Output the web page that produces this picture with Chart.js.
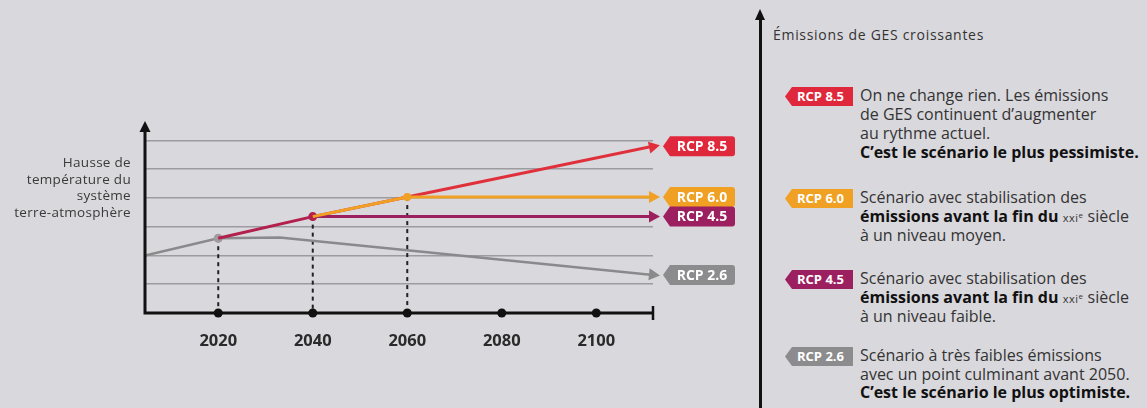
<!DOCTYPE html>
<html lang="fr">
<head>
<meta charset="utf-8">
<script src="https://cdn.jsdelivr.net/npm/chart.js@4.4.1/dist/chart.umd.min.js"></script>
<style>
  html, body { margin: 0; padding: 0; background: #d9d8dd; }
  body { width: 1147px; height: 408px; position: relative; overflow: hidden; font-family: "Open Sans", sans-serif; color: #2b2b2b; }
  #chart { position: absolute; left: 0; top: 0; }
  .ylabel { position: absolute; right: 1016px; top: 154px; text-align: right; font-size: 13.5px; line-height: 16.7px; color: #3a3a3a; letter-spacing: 0.3px; }
  .vaxis { position: absolute; left: 759px; top: 18px; width: 3px; height: 400px; background: #111; }
  .vhead { position: absolute; left: 755px; top: 9px; width: 0; height: 0; border-left: 5.5px solid transparent; border-right: 5.5px solid transparent; border-bottom: 11px solid #111; }
  .title { position: absolute; left: 773px; top: 25px; font-size: 14px; letter-spacing: 0.7px; color: #333; }
  .item { position: absolute; left: 785px; }
  .tag { position: absolute; left: 0; width: 68px; height: 19px; color: #fff; font-weight: 700; font-size: 13px; line-height: 19px; text-align: center;
         clip-path: polygon(7px 0, 100% 0, 100% 100%, 7px 100%, 0 50%); padding-left: 3px; box-sizing: border-box; }
  .txt { position: absolute; left: 75px; width: 320px; font-size: 16px; line-height: 19px; white-space: nowrap; color: #333; }
  .txt b { font-weight: 700; color: #111; }
  .sc { font-size: 11px; letter-spacing: 0.5px; line-height: 0; }
  .sc sup { font-size: 8px; line-height: 0; vertical-align: 4px; }
</style>
</head>
<body>
<canvas id="chart" width="740" height="408"></canvas>

<div class="ylabel">Hausse de<br>température du<br>système<br>terre-atmosphère</div>

<div class="vaxis"></div>
<div class="vhead"></div>
<div class="title">Émissions de GES croissantes</div>

<div class="item" style="top:87px">
  <div class="tag" style="background:#e0283c">RCP 8.5</div>
  <div class="txt" style="top:-1px">On ne change rien. Les émissions<br>de GES continuent d’augmenter<br>au rythme actuel.<br><b>C’est le scénario le plus pessimiste.</b></div>
</div>
<div class="item" style="top:189px">
  <div class="tag" style="background:#f0a022">RCP 6.0</div>
  <div class="txt" style="top:-1px">Scénario avec stabilisation des<br><b>émissions avant la fin du</b> <span class="sc">xxi<sup>e</sup></span> siècle<br>à un niveau moyen.</div>
</div>
<div class="item" style="top:270px">
  <div class="tag" style="background:#9c1f60">RCP 4.5</div>
  <div class="txt" style="top:-1px">Scénario avec stabilisation des<br><b>émissions avant la fin du</b> <span class="sc">xxi<sup>e</sup></span> siècle<br>à un niveau faible.</div>
</div>
<div class="item" style="top:347px">
  <div class="tag" style="background:#8c8c8e">RCP 2.6</div>
  <div class="txt" style="top:-1px; line-height:18.5px">Scénario à très faibles émissions<br>avec un point culminant avant 2050.<br><b>C’est le scénario le plus optimiste.</b></div>
</div>

<script>
// années repères sur l'axe horizontal
const tickYears = [2020, 2040, 2060, 2080, 2100];
const branchYears = [2020, 2040, 2060];

// trajectoires (hausse de température, unité = une ligne de grille)
const commonYears = [2020, 2040];
const commonValues = [2.6, 3.35];
const rcp26Years = [2004.5, 2020, 2033, 2060, 2112];
const rcp26Values = [2.0, 2.6, 2.62, 2.18, 1.32];
const rcp45Years = [2040, 2112];
const rcp45Values = [3.35, 3.35];
const rcp60Years = [2040, 2060, 2112];
const rcp60Values = [3.35, 4.03, 4.03];
const rcp85Years = [2040, 2060, 2112];
const rcp85Values = [3.35, 4.03, 5.8];
const gridLevels = [1, 2, 3, 4, 5, 6];

const pts = (xs, ys) => xs.map((x, i) => ({ x: x, y: ys[i] }));

const colors = {
  common: '#b3204d',
  r26: '#8a8a8c',
  r45: '#9c1f60',
  r60: '#f0a022',
  r85: '#e0303c'
};

const tags = [
  { label: 'RCP 8.5', ds: 'RCP 8.5', color: '#e0283c' },
  { label: 'RCP 6.0', ds: 'RCP 6.0', color: '#f0a022' },
  { label: 'RCP 4.5', ds: 'RCP 4.5', color: '#9c1f60' },
  { label: 'RCP 2.6', ds: 'RCP 2.6', color: '#8c8c8e' }
];

function dotAt(years, year, r) {
  return years.map(y => (y === year ? r : 0));
}

const decor = {
  id: 'decor',
  beforeDatasetsDraw(chart) {
    const { ctx, chartArea, scales } = chart;
    const x = scales.x, y = scales.y;
    // pointillés verticaux depuis les embranchements
    ctx.save();
    ctx.strokeStyle = '#222';
    ctx.lineWidth = 2;
    ctx.setLineDash([4, 4]);
    const branchVals = [2.6, 3.35, 4.03];
    branchYears.forEach((yr, i) => {
      const px = x.getPixelForValue(yr);
      ctx.beginPath();
      ctx.moveTo(px, y.getPixelForValue(branchVals[i]));
      ctx.lineTo(px, chartArea.bottom);
      ctx.stroke();
    });
    ctx.restore();
  },
  afterDatasetsDraw(chart) {
    const { ctx, chartArea, scales } = chart;
    const x = scales.x, y = scales.y;
    const left = chartArea.left, bottom = chartArea.bottom;
    ctx.save();
    // axes
    ctx.strokeStyle = '#111';
    ctx.fillStyle = '#111';
    ctx.lineWidth = 3;
    ctx.beginPath();
    ctx.moveTo(left, bottom + 1.5);
    ctx.lineTo(left, chartArea.top + 4);
    ctx.moveTo(left - 1.5, bottom);
    ctx.lineTo(chartArea.right, bottom);
    ctx.stroke();
    ctx.beginPath();
    ctx.moveTo(left, chartArea.top - 5);
    ctx.lineTo(left - 5.5, chartArea.top + 6);
    ctx.lineTo(left + 5.5, chartArea.top + 6);
    ctx.closePath();
    ctx.fill();
    ctx.lineWidth = 2.5;
    ctx.beginPath();
    ctx.moveTo(chartArea.right, bottom - 7);
    ctx.lineTo(chartArea.right, bottom + 7);
    ctx.stroke();
    tickYears.forEach(yr => {
      ctx.beginPath();
      ctx.arc(x.getPixelForValue(yr), bottom, 4.5, 0, Math.PI * 2);
      ctx.fill();
    });

    // flèches et étiquettes en bout de courbe
    tags.forEach(t => {
      const idx = chart.data.datasets.findIndex(d => d.label === t.ds);
      const meta = chart.getDatasetMeta(idx);
      const n = meta.data.length;
      const p = meta.data[n - 1], q = meta.data[n - 2];
      const ang = Math.atan2(p.y - q.y, p.x - q.x);
      const col = chart.data.datasets[idx].borderColor;
      ctx.save();
      ctx.translate(p.x + 3, p.y);
      ctx.rotate(ang);
      ctx.fillStyle = col;
      ctx.beginPath();
      ctx.moveTo(4, 0);
      ctx.lineTo(-7, -6);
      ctx.lineTo(-7, 6);
      ctx.closePath();
      ctx.fill();
      ctx.restore();

      const tx = 663, tw = 72, th = 20, ty = p.y - th / 2;
      ctx.fillStyle = t.color;
      ctx.beginPath();
      ctx.moveTo(tx, p.y);
      ctx.lineTo(tx + 7, ty);
      ctx.lineTo(tx + tw - 3, ty);
      ctx.quadraticCurveTo(tx + tw, ty, tx + tw, ty + 3);
      ctx.lineTo(tx + tw, ty + th - 3);
      ctx.quadraticCurveTo(tx + tw, ty + th, tx + tw - 3, ty + th);
      ctx.lineTo(tx + 7, ty + th);
      ctx.closePath();
      ctx.fill();
      ctx.fillStyle = '#fff';
      ctx.font = '700 14px "Open Sans"';
      ctx.textAlign = 'center';
      ctx.textBaseline = 'middle';
      ctx.fillText(t.label, tx + tw / 2 + 3, p.y + 0.5);
    });
    ctx.restore();
  }
};

new Chart(document.getElementById('chart'), {
  type: 'line',
  data: {
    datasets: [
      { label: 'RCP 6.0', data: pts(rcp60Years, rcp60Values), borderColor: colors.r60, borderWidth: 3,
        pointRadius: dotAt(rcp60Years, 2060, 4), pointBackgroundColor: colors.r60, pointBorderWidth: 0, order: 1 },
      { label: 'common', data: pts(commonYears, commonValues), borderColor: colors.common, borderWidth: 3,
        pointRadius: dotAt(commonYears, 2040, 4.5), pointBackgroundColor: colors.common, pointBorderWidth: 0, order: 2 },
      { label: 'RCP 4.5', data: pts(rcp45Years, rcp45Values), borderColor: colors.r45, borderWidth: 3,
        pointRadius: 0, order: 3 },
      { label: 'RCP 8.5', data: pts(rcp85Years, rcp85Values), borderColor: colors.r85, borderWidth: 3,
        pointRadius: 0, order: 4 },
      { label: 'RCP 2.6', data: pts(rcp26Years, rcp26Values), borderColor: colors.r26, borderWidth: 2.5,
        pointRadius: dotAt(rcp26Years, 2020, 4.5), pointBackgroundColor: '#a09a9e', pointBorderWidth: 0, order: 5 }
    ]
  },
  options: {
    responsive: false,
    animation: false,
    devicePixelRatio: 1,
    layout: { padding: { left: 145, right: 87, top: 126, bottom: 0 } },
    plugins: { legend: { display: false }, tooltip: { enabled: false } },
    elements: { line: { tension: 0, borderCapStyle: 'butt' } },
    scales: {
      x: {
        type: 'linear',
        min: 2004.5,
        max: 2112,
        afterBuildTicks: s => { s.ticks = tickYears.map(v => ({ value: v })); },
        afterFit: s => { s.height = 95; },
        grid: { display: false, drawTicks: false },
        border: { display: false },
        ticks: { padding: 18, color: '#2a2a2a', font: { family: 'Open Sans', weight: '700', size: 16.5 }, callback: v => String(v) }
      },
      y: {
        min: 0,
        max: 6.5,
        afterBuildTicks: s => { s.ticks = gridLevels.map(v => ({ value: v })); },
        afterFit: s => { s.width = 0; },
        border: { display: false },
        grid: { color: '#9c9b9f', lineWidth: 1.5, drawTicks: false },
        ticks: { display: false }
      }
    }
  },
  plugins: [decor]
});
</script>
</body>
</html>
